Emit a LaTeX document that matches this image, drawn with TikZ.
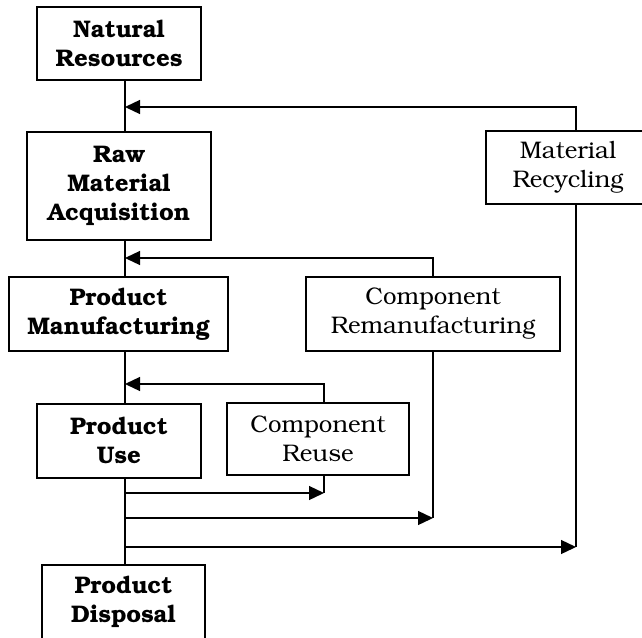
\documentclass[tikz,border=0pt]{standalone}
\usepackage[T1]{fontenc}
\usepackage{bookman}
\usetikzlibrary{arrows.meta}
\tikzset{
  box/.style={draw, line width=1.4pt, inner sep=0pt, align=center, font=\fontsize{24}{29}\selectfont},
  boldbox/.style={box, font=\fontsize{24}{29}\selectfont\bfseries},
  link/.style={line width=1.3pt},
  arr/.style={link, -{Triangle[length=15pt,width=14pt]}},
}
\begin{document}
\begin{tikzpicture}[x=1pt,y=-1pt]
\clip (0,0) rectangle (642,637);
% main nodes
\node[boldbox, minimum width=164pt, minimum height=73pt] (nr) at (119,43.5) {Natural\\Resources};
\node[boldbox, minimum width=184pt, minimum height=108pt] (raw) at (119,186) {Raw\\Material\\Acquisition};
\node[boldbox, minimum width=219pt, minimum height=74pt] (pm) at (118.5,314) {Product\\Manufacturing};
\node[boldbox, minimum width=164pt, minimum height=74pt] (pu) at (119,441) {Product\\Use};
\node[boldbox, minimum width=163pt, minimum height=74pt] (pd) at (123.5,602) {Product\\Disposal};
% side nodes
\node[box, minimum width=164pt, minimum height=73pt] (mr) at (568,167.5) {Material\\Recycling};
\node[box, minimum width=254pt, minimum height=74pt] (cr) at (433,314) {Component\\Remanufacturing};
\node[box, minimum width=182pt, minimum height=72pt] (cu) at (318,439) {Component\\Reuse};
% coordinates
\coordinate (spine) at (125,0);
\coordinate (rx) at (576,0);
\coordinate (cx) at (433,0);
\coordinate (ux) at (324,0);
\coordinate (j1) at (125,107);
\coordinate (j2) at (125,258);
\coordinate (j3) at (125,384);
\coordinate (j4) at (125,493);
\coordinate (j5) at (125,518);
\coordinate (j6) at (125,547);
% spine
\draw[link] (spine |- nr.south) -- (spine |- raw.north);
\draw[link] (spine |- raw.south) -- (spine |- pm.north);
\draw[link] (spine |- pm.south) -- (spine |- pu.north);
\draw[link] (spine |- pu.south) -- (spine |- pd.north);
% returns
\draw[arr] (rx |- mr.north) |- (j1);
\draw[arr] (cx |- cr.north) |- (j2);
\draw[arr] (ux |- cu.north) |- (j3);
% outgoing
\draw[link] (ux |- cu.south) -- (ux |- j4);
\draw[arr] (j4) -- (ux |- j4);
\draw[link] (cx |- cr.south) -- (cx |- j5);
\draw[arr] (j5) -- (cx |- j5);
\draw[link] (rx |- mr.south) -- (rx |- j6);
\draw[arr] (j6) -- (rx |- j6);
\end{tikzpicture}
\end{document}
